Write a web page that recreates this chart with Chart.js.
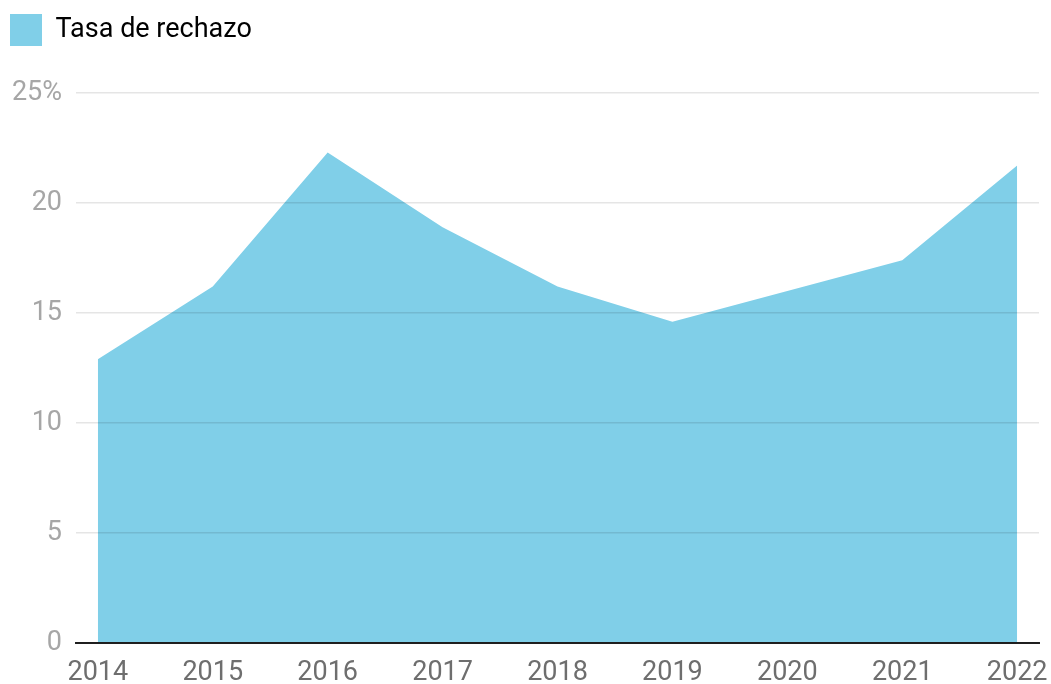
<!DOCTYPE html>
<html>
<head>
<meta charset="utf-8">
<script src="https://cdn.jsdelivr.net/npm/chart.js@4/dist/chart.umd.min.js"></script>
<style>
  html, body { margin: 0; padding: 0; background: #fff; }
  #wrap { width: 1051px; height: 684px; position: relative; }
</style>
</head>
<body>
<div id="wrap"><canvas id="chart"></canvas></div>
<script>
const years = [2014, 2015, 2016, 2017, 2018, 2019, 2020, 2021, 2022];
const rejectionRate = [12.9, 16.2, 22.3, 18.9, 16.2, 14.6, 16.0, 17.4, 21.7];
const yTicks = [0, 5, 10, 15, 20, 25];
const seriesLabel = 'Tasa de rechazo';

const fillColor = '#80cfe8';

// legend needs extra room below it, like the original
const legendSpacer = {
  id: 'legendSpacer',
  beforeInit(chart) {
    const fit = chart.legend.fit;
    chart.legend.fit = function () {
      fit.call(this);
      this.height += 37;
    };
  }
};

new Chart(document.getElementById('chart'), {
  type: 'line',
  data: {
    datasets: [{
      label: seriesLabel,
      data: years.map((y, i) => ({ x: y, y: rejectionRate[i] })),
      backgroundColor: fillColor,
      borderColor: fillColor,
      borderWidth: 0,
      pointRadius: 0,
      tension: 0,
      fill: 'origin'
    }]
  },
  options: {
    responsive: true,
    maintainAspectRatio: false,
    animation: false,
    layout: {
      padding: { left: 0, right: 12, top: 4, bottom: 0 }
    },
    scales: {
      x: {
        type: 'linear',
        min: years[0] - 0.19,
        max: years[years.length - 1] + 0.19,
        afterBuildTicks: scale => {
          scale.ticks = years.map(v => ({ value: v }));
        },
        afterFit: scale => {
          scale.height = 41;
          scale.paddingLeft = 0;
          scale.paddingRight = 0;
        },
        grid: { display: false, drawTicks: false },
        border: { display: true, color: '#222', width: 2, z: 1 },
        ticks: {
          callback: v => String(v),
          color: '#6e6e6e',
          font: { family: 'Roboto', size: 27 },
          padding: 14,
          maxRotation: 0,
          autoSkip: false
        }
      },
      y: {
        min: 0,
        max: 25,
        afterBuildTicks: scale => {
          scale.ticks = yTicks.map(v => ({ value: v }));
        },
        afterFit: scale => {
          scale.width = 76;
        },
        grid: {
          color: 'rgba(0,0,0,0.1)',
          lineWidth: 1.5,
          drawTicks: false,
          z: 1
        },
        border: { display: false },
        ticks: {
          callback: v => v === 25 ? v + '%' : String(v),
          color: '#a6a6a6',
          font: { family: 'Roboto', size: 27 },
          padding: 14
        }
      }
    },
    plugins: {
      legend: {
        display: true,
        position: 'top',
        align: 'start',
        labels: {
          boxWidth: 32,
          boxHeight: 32,
          padding: 10,
          color: '#222',
          font: { family: 'Roboto', size: 27 },
          generateLabels: chart => [{
            text: seriesLabel,
            fillStyle: fillColor,
            strokeStyle: fillColor,
            lineWidth: 0,
            datasetIndex: 0
          }]
        }
      },
      tooltip: { enabled: false }
    }
  },
  plugins: [legendSpacer]
});
</script>
</body>
</html>
